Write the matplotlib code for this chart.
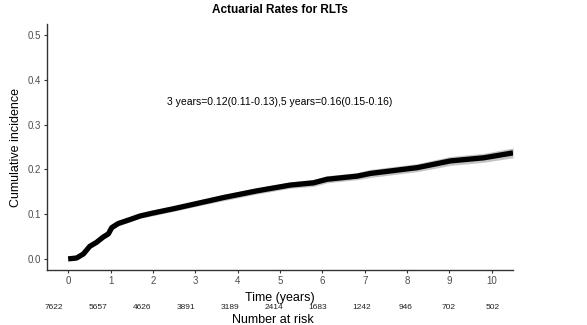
import numpy as np
import matplotlib; matplotlib.use("Agg")
import matplotlib.pyplot as plt

plt.rcParams["font.family"] = ["Liberation Sans", "DejaVu Sans"]

# cumulative incidence
time = [0.0, 0.2, 0.36, 0.51, 0.67, 0.83, 0.95, 1.03, 1.18, 1.46, 1.70, 2.0, 2.48, 3.0,
        3.66, 4.45, 5.24, 5.79, 6.11, 6.82, 7.13, 8.24, 9.02, 9.81, 10.5]
cuminc = [0.0, 0.002, 0.011, 0.028, 0.037, 0.049, 0.056, 0.070, 0.079, 0.088, 0.096, 0.1025, 0.112, 0.123,
          0.137, 0.152, 0.165, 0.170, 0.178, 0.185, 0.191, 0.204, 0.219, 0.226, 0.237]
ci_half = [0.0, 0.002, 0.003, 0.004, 0.004, 0.004, 0.005, 0.005, 0.005, 0.005, 0.005, 0.006, 0.006, 0.006,
           0.007, 0.007, 0.007, 0.008, 0.008, 0.008, 0.009, 0.009, 0.010, 0.010, 0.011]

risk_times = list(range(11))
at_risk = [7622, 5657, 4626, 3891, 3189, 2414, 1683, 1242, 946, 702, 502]

title = "Actuarial Rates for RLTs"
note = "3 years=0.12(0.11-0.13),5 years=0.16(0.15-0.16)"

t = np.array(time); y = np.array(cuminc); h = np.array(ci_half)

fig = plt.figure(figsize=(5.87, 3.25), dpi=100)
ax = fig.add_axes([0.080, 0.169, 0.794, 0.757])
ax.fill_between(t, y - h, y + h, color="#c4c4c4", lw=0)
ax.plot(t, y, color="black", lw=3.8, solid_capstyle="butt")
ax.set_xlim(-0.5, 10.5); ax.set_ylim(-0.025, 0.525)
ax.set_xticks(range(11)); ax.set_yticks([0, 0.1, 0.2, 0.3, 0.4, 0.5])
ax.set_yticklabels(["0.0", "0.1", "0.2", "0.3", "0.4", "0.5"])
for s in ("top", "right"):
    ax.spines[s].set_visible(False)
for s in ("left", "bottom"):
    ax.spines[s].set_color("#333333"); ax.spines[s].set_linewidth(1.0)
ax.tick_params(labelsize=7, colors="#333333", labelcolor="#4d4d4d", length=2.5, width=0.8, pad=2)
ax.set_xlabel("Time (years)", fontsize=9, labelpad=4)
ax.set_ylabel("Cumulative incidence", fontsize=9, labelpad=4)
ax.set_title(title, fontsize=8.5, fontweight="bold", pad=8)
ax.text(5, 0.35, note, fontsize=7.5, ha="center", va="center")

# number-at-risk table
rk = fig.add_axes([0.080, 0.03, 0.794, 0.05])
rk.set_xlim(-0.16, 10.46); rk.set_ylim(0, 1); rk.axis("off")
for tt, n in zip(risk_times, at_risk):
    rk.text(tt, 0.5, str(n), fontsize=6, ha="center", va="center", color="#222222")
fig.text(273 / 587, 1 - 320 / 325, "Number at risk", fontsize=9, ha="center", va="center")

fig.savefig("out.png", dpi=100)
